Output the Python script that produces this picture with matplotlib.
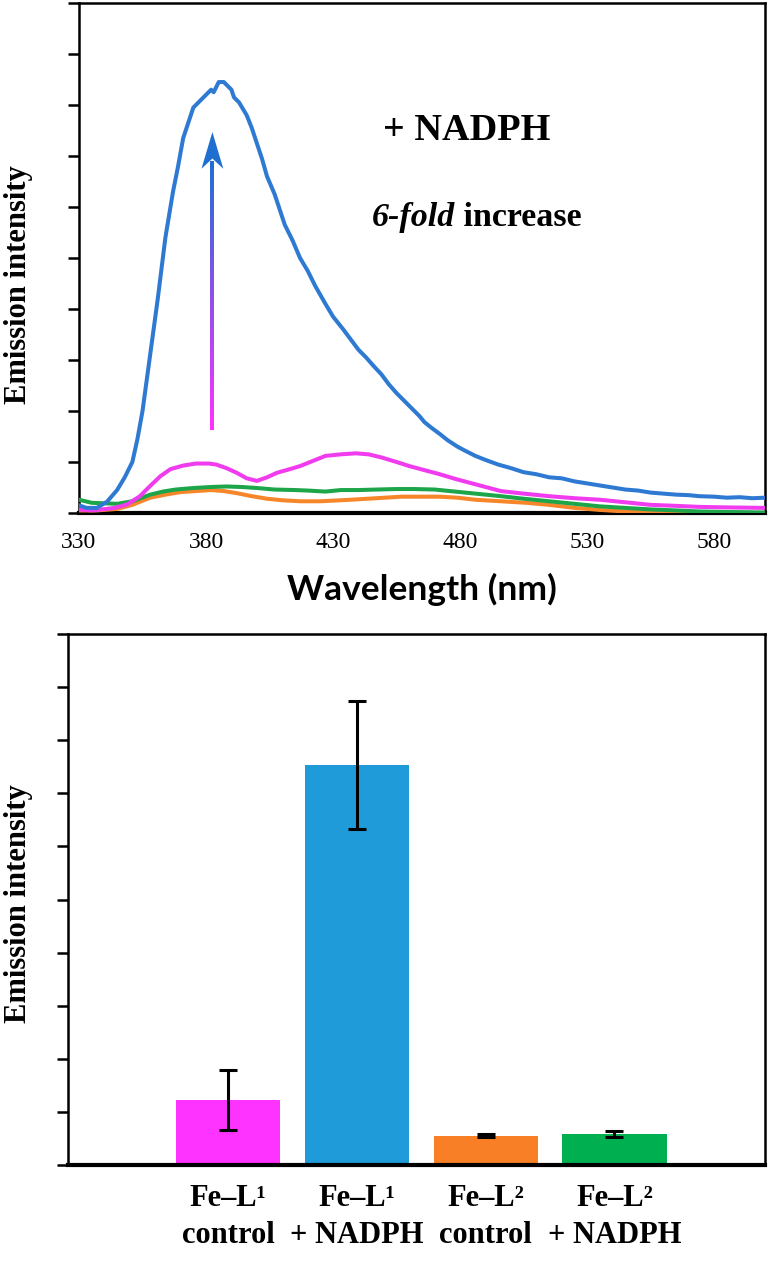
import numpy as np
import matplotlib
matplotlib.use("Agg")
import matplotlib.pyplot as plt
from matplotlib.colors import LinearSegmentedColormap

plt.rcParams['font.family'] = ['Liberation Serif', 'DejaVu Serif']

# spectra (wavelength nm, emission intensity in tick units)
blue_nm = [330, 333, 337, 341, 345, 348, 351, 353, 355, 358, 361, 364, 367, 369, 371, 373, 375, 377,
           379, 380, 381, 382, 383, 385, 387, 388, 390, 391, 393, 396, 398, 400, 402, 404, 407, 411,
           414, 417, 420, 423, 427, 430, 434, 437, 440, 443, 446, 449, 452, 455, 458, 461, 464, 466,
           469, 472, 475, 479, 482, 486, 490, 495, 500, 505, 510, 515, 520, 525, 530, 535, 540, 545,
           550, 555, 560, 565, 570, 574, 580, 585, 590, 595, 600]
blue_val = [0.15, 0.10, 0.10, 0.22, 0.45, 0.70, 1.0, 1.45, 2.0, 3.1, 4.2, 5.4, 6.3, 6.8, 7.35, 7.65, 7.95, 8.05,
            8.15, 8.2, 8.25, 8.3, 8.25, 8.45, 8.45, 8.4, 8.3, 8.15, 8.05, 7.8, 7.55, 7.25, 6.95, 6.6, 6.25, 5.65,
            5.35, 5.0, 4.75, 4.45, 4.1, 3.85, 3.6, 3.4, 3.2, 3.05, 2.88, 2.72, 2.52, 2.35, 2.2, 2.05, 1.9, 1.78,
            1.66, 1.55, 1.43, 1.3, 1.22, 1.12, 1.04, 0.95, 0.88, 0.80, 0.76, 0.70, 0.68, 0.62, 0.58, 0.54, 0.50, 0.46,
            0.44, 0.40, 0.38, 0.36, 0.35, 0.33, 0.32, 0.30, 0.31, 0.29, 0.30]

mag_nm = [330, 335, 339, 344, 349, 354, 358, 362, 366, 371, 376, 381, 384, 388, 392, 396, 400, 404, 408,
          413, 417, 422, 427, 433, 439, 444, 449, 455, 460, 466, 472, 478, 484, 490, 496, 505, 515,
          525, 535, 545, 555, 565, 574, 585, 600]
mag_val = [0.07, 0.05, 0.07, 0.10, 0.17, 0.33, 0.53, 0.72, 0.86, 0.93, 0.97, 0.97, 0.95, 0.88, 0.79, 0.68, 0.63,
           0.70, 0.79, 0.86, 0.92, 1.02, 1.12, 1.15, 1.17, 1.15, 1.09, 1.0, 0.92, 0.84, 0.76, 0.67, 0.59,
           0.51, 0.43, 0.38, 0.33, 0.29, 0.26, 0.21, 0.16, 0.14, 0.12, 0.11, 0.10]

grn_nm = [330, 335, 345, 351, 358, 363, 368, 375, 382, 388, 394, 400, 407, 415, 420, 427, 433, 440,
          447, 455, 462, 470, 476, 486, 496, 505, 515, 525, 535, 545, 555, 565, 574, 585, 600]
grn_val = [0.26, 0.20, 0.18, 0.23, 0.36, 0.42, 0.46, 0.49, 0.51, 0.52, 0.51, 0.49, 0.46, 0.45, 0.44, 0.42,
           0.45, 0.45, 0.46, 0.47, 0.47, 0.46, 0.43, 0.38, 0.33, 0.28, 0.23, 0.18, 0.13, 0.10, 0.07, 0.05,
           0.03, 0.02, 0.01]

org_nm = [330, 337, 345, 351, 358, 364, 370, 376, 382, 387, 392, 398, 404, 410, 417, 425, 437, 447,
          457, 465, 472, 479, 486, 496, 506, 515, 525, 535, 545, 555, 565, 574, 585, 600]
org_val = [0.05, 0.05, 0.08, 0.16, 0.30, 0.36, 0.41, 0.43, 0.45, 0.43, 0.39, 0.33, 0.28, 0.25, 0.23, 0.23,
           0.26, 0.29, 0.32, 0.32, 0.32, 0.30, 0.26, 0.23, 0.20, 0.16, 0.10, 0.06, 0.03, 0.02, 0.01, 0.0,
           0.0, 0.0]

wl_ticks = [330, 380, 430, 480, 530, 580]

# bar chart
bar_labels = ["Fe\u2013L\u00b9\ncontrol", "Fe\u2013L\u00b9\n+ NADPH", "Fe\u2013L\u00b2\ncontrol", "Fe\u2013L\u00b2\n+ NADPH"]
bar_vals = [1.22, 7.53, 0.55, 0.58]
bar_err = [0.56, 1.2, 0.03, 0.06]
bar_colors = ["#FF33FF", "#1E9BD8", "#F97F26", "#00B050"]

fig = plt.figure(figsize=(7.78, 12.67), dpi=100)

# ---- top: spectra ----
ax1 = fig.add_axes([79/778, 1 - 513/1267, 686/778, 510/1267])
lw = 2.9
ax1.plot(org_nm, org_val, color="#F7862B", lw=lw, zorder=3)
ax1.plot(grn_nm, grn_val, color="#1DA54A", lw=lw, zorder=3)
ax1.plot(mag_nm, mag_val, color="#F03CEE", lw=lw, zorder=4)
ax1.plot(blue_nm, blue_val, color="#2E7AD3", lw=lw, zorder=5)
ax1.set_xticks(wl_ticks)
ax1.set_yticks(np.arange(0, 11, 1))
ax1.set_yticklabels([])
ax1.tick_params(axis='y', direction='out', length=8, width=1.8)
ax1.tick_params(axis='x', length=0, pad=14, labelsize=17)
for s in ['left', 'top', 'right']:
    ax1.spines[s].set_linewidth(1.8)
ax1.spines['bottom'].set_linewidth(3)
ax1.set_ylabel("Emission intensity", fontsize=22, fontweight='bold')
ax1.yaxis.set_label_coords((33 - 79) / 686, 0.447)
ax1.set_xlabel("Wavelength (nm)", fontsize=25.5, fontweight='bold', family=['Lato', 'DejaVu Sans'], labelpad=14)

# gradient arrow: magenta at the bottom, blue at the top
arr_x = 382.5
grad = np.linspace(0, 1, 256).reshape(-1, 1)
cmap = LinearSegmentedColormap.from_list("arr", ["#FF33FF", "#1E6FD0"])
ax1.imshow(grad, cmap=cmap, origin='lower', aspect='auto', interpolation='bilinear',
           extent=[arr_x - 0.75, arr_x + 0.75, 1.63, 6.9], zorder=6)
ax1.fill([arr_x, arr_x - 4.3, arr_x, arr_x + 4.3], [7.47, 6.75, 6.95, 6.75],
         color="#1E6FD0", lw=0, zorder=7)
ax1.set_xlim(330, 600)
ax1.set_ylim(0, 10)

ax1.text(482.5, 7.5, "+ NADPH", fontsize=27.5, fontweight='bold', ha='center', va='center')
ax1.text(478, 5.8, "6-fold", fontsize=24.5, fontweight='bold', style='italic', ha='right', va='center')
ax1.text(478, 5.8, " increase", fontsize=24.5, fontweight='bold', ha='left', va='center')

# ---- bottom: bars ----
ax2 = fig.add_axes([68/778, 1 - 1165/1267, 697/778, 531/1267])
x = np.arange(len(bar_vals))
ax2.bar(x, bar_vals, width=0.81, color=bar_colors, zorder=2)
ax2.errorbar(x, bar_vals, yerr=bar_err, fmt='none', ecolor='black', elinewidth=2.2,
             capsize=6.5, capthick=2.2, zorder=3)
ax2.set_xlim(-1.245, 4.17)
ax2.set_ylim(0, 10)
ax2.set_yticks(np.arange(0, 11, 1))
ax2.set_yticklabels([])
ax2.set_xticks(x)
ax2.set_xticklabels(bar_labels, fontsize=22, fontweight='bold', linespacing=1.35)
ax2.tick_params(axis='y', direction='out', length=8, width=1.8)
ax2.tick_params(axis='x', length=0, pad=14)
for s in ['left', 'top', 'right']:
    ax2.spines[s].set_linewidth(1.8)
ax2.spines['bottom'].set_linewidth(3)
ax2.set_ylabel("Emission intensity", fontsize=22, fontweight='bold')
ax2.yaxis.set_label_coords((33 - 68) / 697, 0.493)

fig.savefig("out.png", dpi=100)
